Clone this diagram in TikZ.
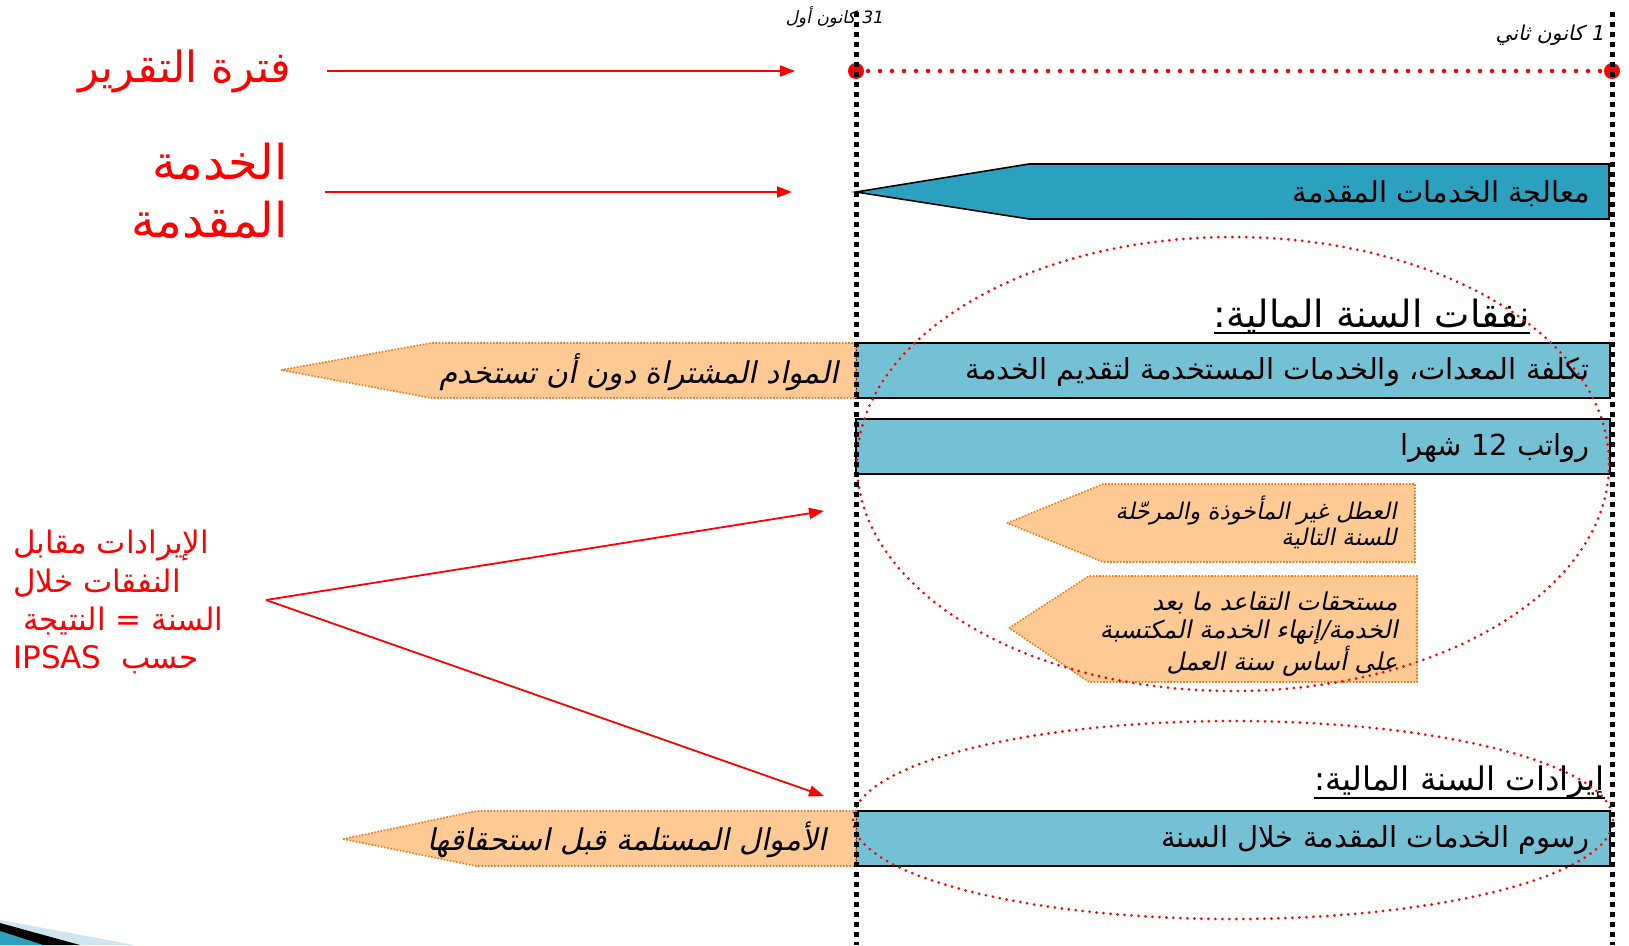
\documentclass[tikz,border=0pt]{standalone}
\usepackage{fontspec}
\usetikzlibrary{arrows.meta}
\TeXXeTstate=1
\newfontfamily\ar[Script=Arabic]{DejaVu Sans}
\newfontfamily\arit[Script=Arabic,FakeSlant=0.2]{DejaVu Sans}
\definecolor{tealc}{HTML}{2CA1BF}
\definecolor{lblue}{HTML}{74C1D5}
\definecolor{orfill}{HTML}{FFC993}
\definecolor{orline}{HTML}{F07A1E}
\definecolor{redc}{HTML}{FF0000}
\definecolor{swlight}{HTML}{CFE6F0}
\begin{document}
\begin{tikzpicture}[x=1pt,y=-1pt,
  vline/.style={line width=5pt, dash pattern=on 5pt off 5pt},
  redarrow/.style={draw=redc, line width=1.8pt, -{Triangle[length=15pt,width=11pt]}},
  bluebox/.style={fill=lblue, draw=black, line width=2pt},
  tealshape/.style={fill=tealc, draw=black, line width=1.6pt},
  orshape/.style={fill=orfill, draw=orline, line width=1.6pt, dash pattern=on 1.6pt off 1.6pt},
  redell/.style={draw=redc, line width=3pt, line cap=round, dash pattern=on 0pt off 7pt},
  reddots/.style={draw=redc, line width=4.5pt, line cap=round, dash pattern=on 0pt off 12pt},
  boxtext/.style={anchor=east, font=\ar\fontsize{29}{34}\selectfont, inner sep=0pt},
  ortext/.style={anchor=east, font=\arit\fontsize{30}{36}\selectfont, inner sep=0pt},
  orsmall/.style={anchor=east, font=\arit\fontsize{23}{28}\selectfont, inner sep=0pt},
  ormid/.style={anchor=east, font=\arit\fontsize{24.5}{29}\selectfont, inner sep=0pt},
  bigred/.style={anchor=east, text=redc, font=\ar\fontsize{48}{56}\selectfont, inner sep=0pt},
  midred/.style={anchor=west, text=redc, font=\ar\fontsize{31}{37}\selectfont, inner sep=0pt},
  heading/.style={anchor=east, font=\ar\fontsize{32.5}{38}\selectfont, inner sep=0pt},
  datetext/.style={anchor=east, font=\arit\fontsize{17}{20}\selectfont, inner sep=0pt}
]
\useasboundingbox (0,0) rectangle (1629,945);

% bottom-left swoosh
\fill[swlight] (0,920) -- (135,945) -- (0,945) -- cycle;
\fill[black] (0,923) -- (80,945) -- (0,945) -- cycle;
\fill[tealc] (0,931) -- (43,945) -- (0,945) -- cycle;

% dates
\node[datetext] (dL) at (883,17) {\beginR\beginL 31\endL{} كانون أول\endR};
\node[datetext, font=\arit\fontsize{20.5}{24}\selectfont] (dR) at (1604,35) {\beginR\beginL 1\endL{} كانون ثاني\endR};

% reporting period
\coordinate (pL) at (856,71);
\coordinate (pR) at (1612,71);
\draw[reddots] (pL) -- (pR);
\fill[redc] (pL) circle (8);
\fill[redc] (pR) circle (8);

\node[bigred, font=\ar\fontsize{43}{50}\selectfont] (rep) at (291,71) {\beginR فترة التقرير\endR};
\coordinate (repT) at (795,71);
\draw[redarrow] (327,71) -- (repT);

\node[bigred] (srv1) at (288,162) {\beginR الخدمة\endR};
\node[bigred] (srv2) at (288,220) {\beginR المقدمة\endR};
\coordinate (srvS) at (325,192);
\coordinate (srvT) at (792,192);
\draw[redarrow] (srvS) -- (srvT);

% service processing
\draw[tealshape] (856,192) -- (1029,164) -- (1609,164) -- (1609,219) -- (1029,219) -- cycle;
\node[boxtext] (proc) at (1590,194) {\beginR معالجة الخدمات المقدمة\endR};

% expenses
\draw[bluebox] (856,343) rectangle (1610,398);
\node[boxtext] (b1) at (1590,372) {\beginR تكلفة المعدات، والخدمات المستخدمة لتقديم الخدمة\endR};
\draw[orshape] (281,370) -- (431,343) -- (856,343) -- (856,398) -- (431,398) -- cycle;
\node[ortext] (o1) at (839,372) {\beginR المواد المشتراة دون أن تستخدم\endR};

\draw[bluebox] (856,419) rectangle (1610,474);
\node[boxtext] (b2) at (1590,448) {\beginR رواتب \beginL 12\endL{} شهرا\endR};

\draw[orshape] (1007,523) -- (1103,484) -- (1415,484) -- (1415,562) -- (1103,562) -- cycle;
\node[orsmall] (o2a) at (1397,510) {\beginR العطل غير المأخوذة والمرحّلة\endR};
\node[orsmall] (o2b) at (1397,538) {\beginR للسنة التالية\endR};

\draw[orshape] (1009,628) -- (1089,576) -- (1417,576) -- (1417,682) -- (1089,682) -- cycle;
\node[ormid] (o3a) at (1398,603) {\beginR مستحقات التقاعد ما بعد\endR};
\node[ormid] (o3b) at (1398,632) {\beginR الخدمة/إنهاء الخدمة المكتسبة\endR};
\node[ormid] (o3c) at (1398,661) {\beginR على أساس سنة العمل\endR};

\node[heading, font=\ar\fontsize{37.5}{44}\selectfont] (h1) at (1530,316) {\beginR نفقات السنة المالية:\endR};
\draw[line width=1.5pt] (h1.south west |- 0,333) -- (h1.south east |- 0,333);

% revenues
\draw[bluebox] (856,811) rectangle (1610,866);
\node[boxtext] (b3) at (1590,840) {\beginR رسوم الخدمات المقدمة خلال السنة\endR};
\draw[orshape] (343,839) -- (476,811) -- (856,811) -- (856,866) -- (476,866) -- cycle;
\node[ortext] (o4) at (827,840) {\beginR الأموال المستلمة قبل استحقاقها\endR};

\node[heading] (h2) at (1605,782) {\beginR إيرادات السنة المالية:\endR};
\draw[line width=1.5pt] (h2.south west |- 0,798) -- (h2.south east |- 0,798);

% ellipses
\draw[redell] (1233,464) ellipse [x radius=376, y radius=227];
\draw[redell] (1233,820) ellipse [x radius=380, y radius=99];

% left red block
\node[midred] (l1) at (13,545) {\beginR الإيرادات مقابل\endR};
\node[midred] (l2) at (13,583) {\beginR النفقات خلال\endR};
\node[midred] (l3) at (23,621) {\beginR السنة = النتيجة\endR};
\node[midred] (l4) at (13,660) {\beginR حسب \ \beginL IPSAS\endL\endR};
\coordinate (src) at (266,600);
\coordinate (tUp) at (824,511);
\coordinate (tDn) at (824,796);
\draw[redarrow] (src) -- (tUp);
\draw[redarrow] (src) -- (tDn);

% vertical dotted lines
\draw[vline] (856,12) -- (856,945);
\draw[vline] (1612,12) -- (1612,945);
\end{tikzpicture}
\end{document}
